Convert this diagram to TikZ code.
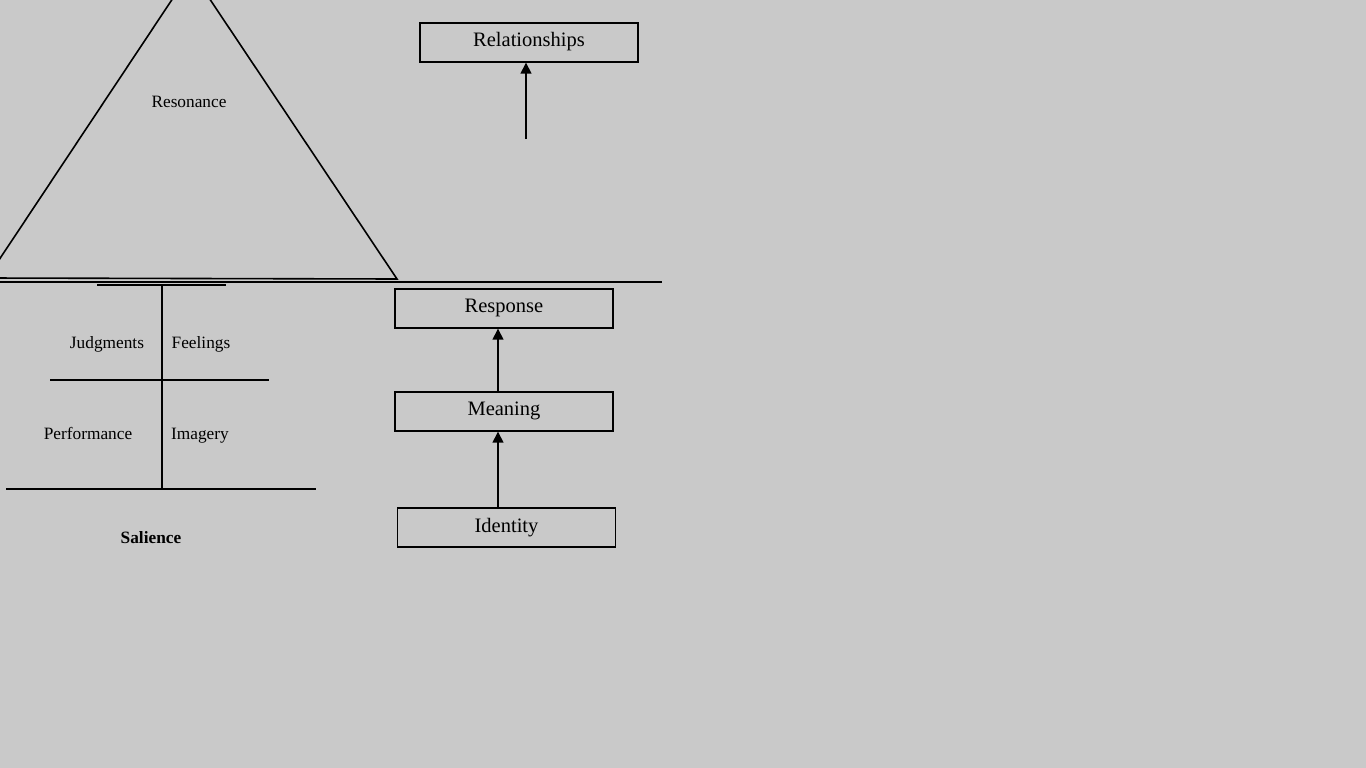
\documentclass[tikz,border=0pt]{standalone}
\usepackage{fontspec}
\setmainfont{Liberation Serif}
\usepackage{tikz}
\usetikzlibrary{arrows.meta}

\definecolor{bggray}{RGB}{201,201,201}
\tikzset{
  stagebox/.style={draw, line width=1.4pt, minimum width=218, minimum height=39, inner sep=0pt, text height=1em, text depth=0.25em, font=\fontsize{20.5}{24}\selectfont},
  blocklabel/.style={inner sep=0pt, text height=0.7em, text depth=0.25em, font=\fontsize{17.3}{20}\selectfont},
  uparrow/.style={line width=1.5pt, -{Triangle[length=11pt, width=11pt]}}
}

\begin{document}
\begin{tikzpicture}[x=1pt, y=-1pt, line width=1.6pt]
      \fill[bggray] (0,0) rectangle (1366,768);
      \useasboundingbox (0,0) rectangle (1366,768);
      % pyramid
      \begin{scope}
        \clip (0,0) rectangle (1366,768);
        \draw (-13,278) -- (191,-29) -- (397,279) -- cycle;
      \end{scope}
      \draw (0,282) -- (662,282);
      \draw (97,285) -- (226,285);
      \draw (162,285) -- (162,490);
      \draw (50,380) -- (269,380);
      \draw (6,489) -- (316,489);
      \node[blocklabel] (reso) at (189,105) {Resonance};
      \node[blocklabel] (judg) at (107,346) {Judgments};
      \node[blocklabel] (feel) at (201,346) {Feelings};
      \node[blocklabel] (perf) at (88,437) {Performance};
      \node[blocklabel] (imag) at (200,437) {Imagery};
      \node[blocklabel, font=\fontsize{17.3}{20}\selectfont\bfseries] (sali) at (151,541) {Salience};
      % stages
      \node[stagebox] (rel) at (529,42.5) {Relationships};
      \node[stagebox] (resp) at (504,308.5) {Response};
      \node[stagebox] (mean) at (504,411.5) {Meaning};
      \node[stagebox, text height=1.3em] (iden) at (506.5,527.5) {Identity};
      \coordinate (relfoot) at (526,139);
      \draw[uparrow] (relfoot) -- (relfoot |- rel.south);
      \draw[uparrow] ([xshift=-6]mean.north) -- ([xshift=-6]resp.south);
      \draw[uparrow] ([xshift=-8.5]iden.north) -- ([xshift=-6]mean.south);
    \end{tikzpicture}
\end{document}
